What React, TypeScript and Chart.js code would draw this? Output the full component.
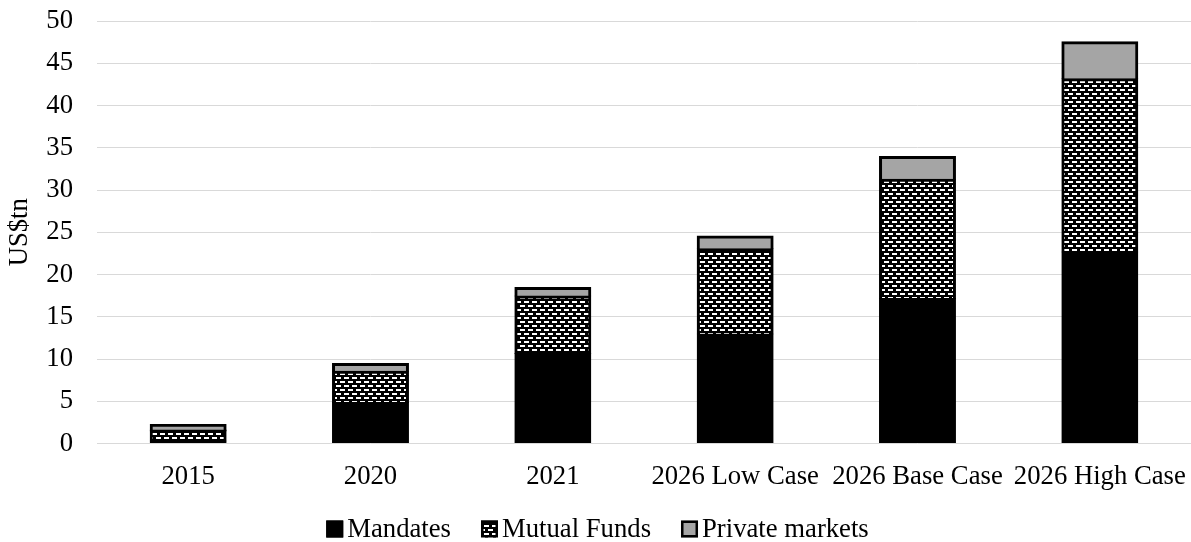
import React, { useEffect, useRef } from "react";
import { Chart, registerables } from "chart.js";

Chart.register(...registerables);

const categories = ["2015", "2020", "2021", "2026 Low Case", "2026 Base Case", "2026 High Case"];
const mandates = [0.25, 4.8, 10.6, 12.9, 17.1, 22.6];
const mutualFunds = [1.3, 3.7, 6.8, 10.1, 14.1, 20.5];
const privateMarkets = [0.65, 0.9, 1.0, 1.5, 2.7, 4.4];
const yTicks = [0, 5, 10, 15, 20, 25, 30, 35, 40, 45, 50];

const FONT = "'Liberation Serif', 'Times New Roman', serif";
const FS = 26.7;

function makePattern(): CanvasPattern | string {
  const c = document.createElement("canvas");
  c.width = 8;
  c.height = 8;
  const g = c.getContext("2d");
  if (!g) return "#000";
  g.fillStyle = "#000";
  g.fillRect(0, 0, 8, 8);
  g.fillStyle = "#fff";
  g.fillRect(0, 1, 5, 2);
  g.fillRect(4, 5, 4, 2);
  g.fillRect(0, 5, 1, 2);
  const p = g.createPattern(c, "repeat");
  return p || "#000";
}

const legendPlugin = {
  id: "customLegend",
  afterDraw(chart: any) {
    const ctx = chart.ctx as CanvasRenderingContext2D;
    const ds = chart.data.datasets;
    const box = 17;
    const gapText = 4;
    const gapItem = 30;
    ctx.save();
    ctx.font = `${FS}px ${FONT}`;
    const widths = ds.map((d: any) => ctx.measureText(d.label).width);
    const total =
      widths.reduce((a: number, b: number) => a + b, 0) + ds.length * (box + gapText) + (ds.length - 1) * gapItem;
    let x = chart.width / 2 - total / 2 + 2;
    const cy = 529;
    ctx.textBaseline = "middle";
    ctx.textAlign = "left";
    ds.forEach((d: any, i: number) => {
      ctx.fillStyle = d.backgroundColor;
      ctx.fillRect(x, cy - box / 2, box, box);
      ctx.strokeStyle = "#000";
      ctx.lineWidth = 2.5;
      ctx.strokeRect(x + 1.25, cy - box / 2 + 1.25, box - 2.5, box - 2.5);
      ctx.fillStyle = "#000";
      ctx.fillText(d.label, x + box + gapText, cy + 1);
      x += box + gapText + widths[i] + gapItem;
    });
    ctx.restore();
  },
};

export default function App() {
  const ref = useRef<HTMLCanvasElement | null>(null);

  useEffect(() => {
    if (!ref.current) return;
    Chart.defaults.font.family = FONT;
    Chart.defaults.color = "#000";
    const pattern = makePattern();
    const common = { borderColor: "#000", borderWidth: 3, inflateAmount: 1 };
    const chart = new Chart(ref.current, {
      type: "bar",
      data: {
        labels: categories,
        datasets: [
          { label: "Mandates", data: mandates, backgroundColor: "#000", ...common },
          { label: "Mutual Funds", data: mutualFunds, backgroundColor: pattern as any, ...common },
          { label: "Private markets", data: privateMarkets, backgroundColor: "#a5a5a5", ...common },
        ],
      },
      plugins: [legendPlugin],
      options: {
        animation: false,
        responsive: false,
        maintainAspectRatio: false,
        layout: { padding: { top: 21, left: 0, right: 0, bottom: 48.5 } },
        datasets: {
          bar: { categoryPercentage: 1, barPercentage: 0.411 },
        },
        plugins: {
          tooltip: { enabled: false },
          legend: { display: false },
        },
        scales: {
          x: {
            stacked: true,
            grid: { display: false, drawTicks: false },
            border: { display: false },
            ticks: { padding: 17, font: { size: FS, family: FONT }, color: "#000", maxRotation: 0, autoSkip: false },
            afterFit: (s: any) => {
              s.height = 50;
              s.paddingLeft = 0;
              s.paddingRight = 0;
            },
          },
          y: {
            stacked: true,
            min: 0,
            max: 50,
            afterBuildTicks: (s: any) => {
              s.ticks = yTicks.map((v) => ({ value: v }));
            },
            grid: { color: "#d9d9d9", lineWidth: 1, drawTicks: false },
            border: { display: false },
            ticks: { padding: 24, font: { size: FS, family: FONT }, color: "#000" },
            title: {
              display: true,
              text: "US$tn",
              color: "#000",
              font: { size: FS, family: FONT },
              padding: { top: 4, bottom: 0 },
            },
            afterFit: (s: any) => {
              s.width = 97;
              s.paddingTop = 0;
              s.paddingBottom = 0;
            },
          },
        },
      },
    });
    return () => chart.destroy();
  }, []);

  return (
    <div style={{ position: "fixed", left: 0, top: 0, width: 1191, height: 542, overflow: "hidden", background: "#fff" }}>
      <canvas ref={ref} width={1191} height={542} style={{ display: "block", width: 1191, height: 542 }} />
    </div>
  );
}
